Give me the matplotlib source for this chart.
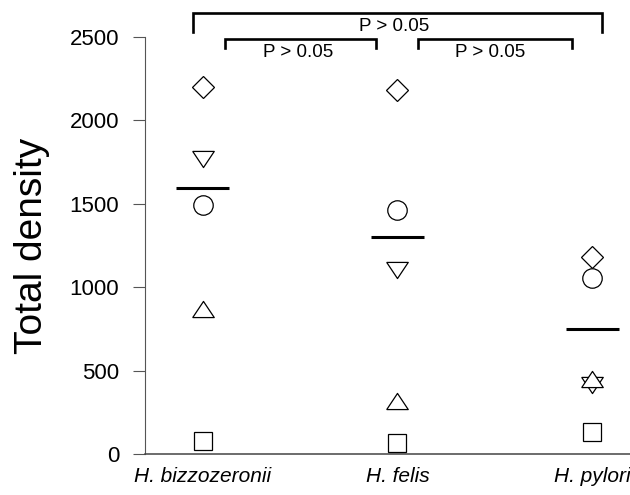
import matplotlib
matplotlib.use('Agg')
import matplotlib.pyplot as plt

plt.rcParams['font.family'] = ['Liberation Sans', 'DejaVu Sans']

# species on the x axis
species = ['H. bizzozeronii', 'H. felis', 'H. pylori']

# one value per marker shape, in species order
diamond = [2200, 2180, 1180]
tri_down = [1770, 1105, 415]
circle = [1495, 1465, 1055]
tri_up = [870, 320, 450]
square = [80, 68, 130]

# horizontal mean bars
means = [1595, 1300, 750]

yticks = [0, 500, 1000, 1500, 2000, 2500]
p_label = 'P > 0.05'

fig = plt.figure(figsize=(6.3, 4.95), dpi=100)
ax = fig.add_axes([0.2302, 0.0828, 0.7698, 0.8425])

# flatter triangles than matplotlib's default ones
up_tri = [(-1, -0.75), (1, -0.75), (0, 0.75), (-1, -0.75)]
down_tri = [(-1, 0.75), (1, 0.75), (0, -0.75), (-1, 0.75)]

xs = [1, 2, 3]
mk = dict(markerfacecolor='white', markeredgecolor='black', markeredgewidth=0.9,
          linestyle='none', clip_on=False, zorder=3)
ax.plot(xs, diamond, marker='D', markersize=11, **mk)
ax.plot(xs, tri_down, marker=down_tri, markersize=15.5, **mk)
ax.plot(xs, circle, marker='o', markersize=14, **mk)
ax.plot(xs, tri_up, marker=up_tri, markersize=15.5, **mk)
ax.plot(xs, square, marker='s', markersize=13.5, **mk)

ax.hlines(means, [x - 0.136 for x in xs], [x + 0.136 for x in xs],
          color='black', linewidth=2.2, zorder=4)

ax.set_xlim(0.7026, 3.195)
ax.set_ylim(0, 2500)
ax.set_yticks(yticks)
ax.set_xticks(xs)
ax.set_xticklabels(species, fontstyle='italic', fontsize=15)
ax.tick_params(axis='y', direction='out', length=8.5, width=0.8, labelsize=16,
               pad=10, color='#555555')
ax.tick_params(axis='x', length=0, pad=9)
ax.set_ylabel('Total density', fontsize=28, labelpad=14)

ax.spines['top'].set_visible(False)
ax.spines['right'].set_visible(False)
ax.spines['left'].set_color('#555555')
ax.spines['left'].set_linewidth(0.8)
ax.spines['bottom'].set_color('#444444')
ax.spines['bottom'].set_linewidth(1.1)

# significance brackets
def bracket(x0, x1, top, leg, label, lx, ly):
    ax.plot([x0, x0, x1, x1], [top - leg, top, top, top - leg], color='black',
            linewidth=1.9, clip_on=False, solid_joinstyle='miter')
    ax.text(lx, ly, label, ha='center', va='center', fontsize=13.5)

bracket(0.949, 3.05, 2644, 114, p_label, 1.985, 2565)
bracket(1.113, 1.892, 2488, 54, p_label, 1.487, 2404)
bracket(2.108, 2.897, 2488, 54, p_label, 2.474, 2404)

fig.savefig('out.png', dpi=100)
